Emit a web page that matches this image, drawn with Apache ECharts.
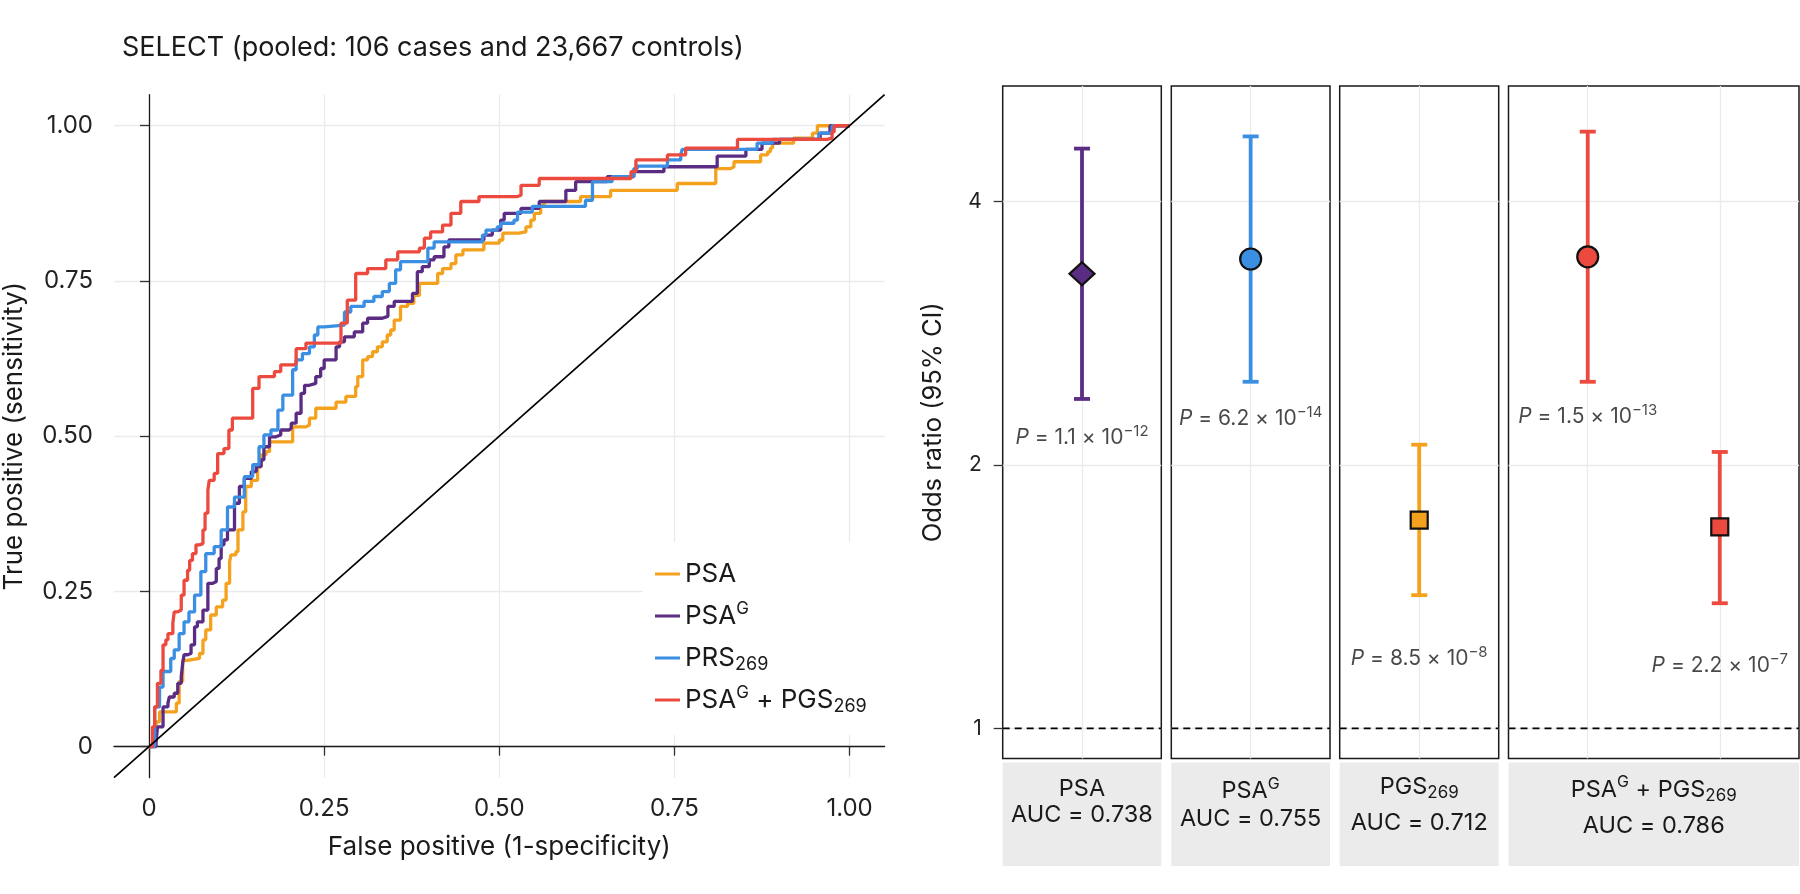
<!DOCTYPE html>
<html>
<head>
<meta charset="utf-8">
<title>SELECT ROC and odds ratios</title>
<script src="https://cdn.jsdelivr.net/npm/echarts@6/dist/echarts.min.js"></script>
<style>
  html, body { margin: 0; padding: 0; background: #fff; }
  #chart { width: 1800px; height: 894px; }
</style>
</head>
<body>
<div id="chart"></div>
<script>
'use strict';

// ROC curves, [false positive, true positive] at each step
const rocPSA = [[0,0],[0.005,0.016],[0.010,0.040],[0.015,0.056],[0.039,0.070],[0.043,0.105],[0.048,0.139],[0.055,0.142],[0.072,0.150],[0.077,0.172],[0.081,0.188],[0.088,0.212],[0.096,0.225],[0.105,0.236],[0.110,0.263],[0.115,0.298],[0.117,0.309],[0.124,0.314],[0.127,0.349],[0.134,0.378],[0.138,0.419],[0.146,0.429],[0.155,0.451],[0.160,0.470],[0.167,0.475],[0.172,0.491],[0.205,0.515],[0.224,0.518],[0.229,0.529],[0.238,0.545],[0.267,0.555],[0.281,0.564],[0.295,0.580],[0.298,0.596],[0.305,0.623],[0.312,0.628],[0.319,0.636],[0.326,0.644],[0.333,0.652],[0.340,0.663],[0.345,0.671],[0.350,0.687],[0.359,0.709],[0.369,0.714],[0.378,0.727],[0.386,0.746],[0.412,0.762],[0.419,0.770],[0.431,0.778],[0.438,0.792],[0.448,0.800],[0.478,0.811],[0.500,0.816],[0.505,0.827],[0.528,0.829],[0.538,0.837],[0.545,0.848],[0.550,0.859],[0.559,0.872],[0.564,0.878],[0.616,0.886],[0.659,0.896],[0.754,0.907],[0.809,0.931],[0.830,0.934],[0.835,0.942],[0.873,0.953],[0.883,0.958],[0.887,0.964],[0.890,0.972],[0.920,0.980],[0.947,0.988],[0.954,1.0],[1,1]];
const rocPSAG = [[0,0],[0.010,0.005],[0.012,0.032],[0.020,0.064],[0.027,0.070],[0.029,0.080],[0.036,0.086],[0.041,0.102],[0.046,0.113],[0.048,0.134],[0.050,0.148],[0.055,0.150],[0.060,0.164],[0.065,0.193],[0.069,0.201],[0.077,0.220],[0.084,0.263],[0.091,0.266],[0.096,0.287],[0.100,0.303],[0.103,0.325],[0.107,0.333],[0.112,0.349],[0.122,0.392],[0.129,0.419],[0.136,0.432],[0.146,0.443],[0.153,0.451],[0.160,0.462],[0.164,0.483],[0.172,0.499],[0.181,0.502],[0.188,0.510],[0.200,0.513],[0.203,0.521],[0.210,0.537],[0.217,0.569],[0.222,0.582],[0.229,0.585],[0.238,0.596],[0.245,0.609],[0.250,0.623],[0.267,0.644],[0.272,0.652],[0.279,0.660],[0.293,0.668],[0.305,0.682],[0.312,0.690],[0.333,0.693],[0.341,0.709],[0.350,0.717],[0.376,0.730],[0.383,0.765],[0.390,0.773],[0.400,0.784],[0.407,0.789],[0.421,0.805],[0.428,0.816],[0.478,0.824],[0.490,0.832],[0.502,0.848],[0.507,0.859],[0.531,0.867],[0.557,0.878],[0.595,0.896],[0.609,0.910],[0.654,0.918],[0.692,0.926],[0.735,0.934],[0.811,0.951],[0.852,0.962],[0.875,0.972],[0.900,0.978],[0.958,0.988],[0.972,1.0],[1,1]];
const rocPRS = [[0,0],[0.008,0.064],[0.015,0.096],[0.020,0.121],[0.031,0.142],[0.036,0.156],[0.043,0.182],[0.050,0.201],[0.057,0.217],[0.065,0.244],[0.074,0.282],[0.081,0.311],[0.093,0.322],[0.103,0.349],[0.112,0.386],[0.122,0.402],[0.136,0.435],[0.148,0.454],[0.157,0.483],[0.164,0.502],[0.174,0.510],[0.184,0.542],[0.191,0.566],[0.205,0.607],[0.210,0.623],[0.219,0.633],[0.229,0.644],[0.236,0.663],[0.241,0.676],[0.250,0.679],[0.279,0.700],[0.288,0.709],[0.307,0.717],[0.321,0.725],[0.333,0.733],[0.343,0.746],[0.352,0.768],[0.359,0.781],[0.398,0.803],[0.407,0.813],[0.476,0.824],[0.481,0.832],[0.497,0.837],[0.502,0.843],[0.521,0.848],[0.526,0.861],[0.547,0.870],[0.623,0.880],[0.633,0.910],[0.661,0.918],[0.692,0.931],[0.697,0.935],[0.740,0.945],[0.759,0.953],[0.761,0.962],[0.868,0.972],[0.890,0.978],[0.956,0.988],[0.975,1.0],[1,1]];
const rocCombined = [[0,0],[0.005,0.032],[0.008,0.064],[0.012,0.102],[0.017,0.123],[0.020,0.164],[0.024,0.172],[0.027,0.182],[0.034,0.199],[0.036,0.217],[0.041,0.220],[0.046,0.244],[0.050,0.268],[0.055,0.284],[0.058,0.300],[0.062,0.311],[0.067,0.325],[0.072,0.327],[0.077,0.349],[0.080,0.376],[0.084,0.413],[0.086,0.429],[0.093,0.440],[0.098,0.472],[0.107,0.480],[0.114,0.510],[0.119,0.529],[0.148,0.577],[0.157,0.596],[0.179,0.604],[0.188,0.615],[0.207,0.617],[0.210,0.641],[0.224,0.650],[0.274,0.682],[0.283,0.719],[0.295,0.762],[0.312,0.770],[0.338,0.784],[0.355,0.797],[0.386,0.803],[0.393,0.819],[0.402,0.829],[0.419,0.840],[0.431,0.859],[0.445,0.878],[0.471,0.886],[0.526,0.888],[0.531,0.904],[0.557,0.915],[0.688,0.926],[0.695,0.945],[0.740,0.953],[0.766,0.964],[0.840,0.978],[0.968,0.980],[0.975,0.990],[0.978,1.0],[1,1]];
const rocNames = ['PSA', 'PSAG', 'PRS269', 'PSAG+PGS269'];
const rocTicks = [0, 0.25, 0.5, 0.75, 1];
const chanceLine = [[-0.05, -0.05], [1.05, 1.05]];

// odds ratios, one entry per estimate
const orPanels = ['PSA', 'PSAG', 'PGS269', 'PSAG+PGS269'];
const orAuc = ['0.738', '0.755', '0.712', '0.786'];
const orPanelOf = [0, 1, 2, 3, 3];
const orSlot = [1, 1, 1, 1, 2];
const orEstimate = [3.31, 3.44, 1.73, 3.46, 1.70];
const orLower = [2.38, 2.49, 1.42, 2.49, 1.39];
const orUpper = [4.60, 4.75, 2.11, 4.81, 2.07];
const pMantissa = ['1.1', '6.2', '8.5', '1.5', '2.2'];
const pExponent = ['\u221212', '\u221214', '\u22128', '\u221213', '\u22127'];
const pLabelAt = [2.15, 2.26, 1.20, 2.27, 1.18];
const orTicks = [1, 2, 4];

const FONT = 'Inter, "Noto Sans", sans-serif';
const INK = '#1a1a1a';
const GRID = '#ebebeb';
const rocColors = ['#f4a11d', '#5b2c83', '#3b8fe2', '#ec4a3e'];
const orColors = ['#5b2c83', '#3b8fe2', '#f4a11d', '#ec4a3e', '#ec4a3e'];
const orSymbols = ['diamond', 'circle', 'rect', 'circle', 'rect'];
const orSymbolSize = [[25, 23], 21, 17, 21, 17];

const richParts = {
    sup: { fontSize: 16, verticalAlign: 'top', lineHeight: 12, fontFamily: FONT, color: INK },
    sub: { fontSize: 17, verticalAlign: 'bottom', lineHeight: 12, fontFamily: FONT, color: INK },
    it: { fontStyle: 'italic', fontFamily: FONT, color: INK, fontSize: 21 }
};
const pretty = {
    'PSA': 'PSA',
    'PSAG': 'PSA{sup|G}',
    'PRS269': 'PRS{sub|269}',
    'PGS269': 'PGS{sub|269}',
    'PSAG+PGS269': 'PSA{sup|G} + PGS{sub|269}'
};

// panel boxes on the right [left, width]
const panelBox = [[1002.7, 158.6], [1171.3, 158.7], [1339.7, 159], [1508.5, 290.5]];
const panelTop = 86, panelHeight = 672.4;
const slotsPerPanel = [1, 1, 1, 2];

function init() {
    const chart = echarts.init(document.getElementById('chart'));

    const grids = [{ left: 112.4, top: 94.7, width: 772.2, height: 683 }];
    const xAxes = [{
        type: 'value', gridIndex: 0, min: -0.05, max: 1.05,
        name: 'False positive (1-specificity)', nameLocation: 'middle', nameGap: 56,
        nameTextStyle: { fontSize: 26, color: INK, fontFamily: FONT },
        axisLine: { lineStyle: { color: INK, width: 1.3 } },
        axisTick: { length: 9, customValues: rocTicks, lineStyle: { color: '#333', width: 1.3 } },
        axisLabel: { customValues: rocTicks, margin: 19, fontSize: 24, color: '#222', fontFamily: FONT,
            formatter: v => (v === 0 ? '0' : v.toFixed(2)) },
        splitLine: { show: true, lineStyle: { color: GRID, width: 1.3 } }
    }];
    const yAxes = [{
        type: 'value', gridIndex: 0, min: -0.05, max: 1.05,
        name: 'True positive (sensitivity)', nameLocation: 'middle', nameGap: 87,
        nameTextStyle: { fontSize: 26, color: INK, fontFamily: FONT },
        axisLine: { show: true, lineStyle: { color: INK, width: 1.3 } },
        axisTick: { show: true, length: 9, customValues: rocTicks, lineStyle: { color: '#333', width: 1.3 } },
        axisLabel: { customValues: rocTicks, margin: 21, fontSize: 24, color: '#222', fontFamily: FONT,
            formatter: v => (v === 0 ? '0' : v.toFixed(2)) },
        splitLine: { show: true, lineStyle: { color: GRID, width: 1.3 } }
    }];

    panelBox.forEach((b, p) => {
        const slots = [];
        for (let s = 1; s <= slotsPerPanel[p]; s++) slots.push(s);
        grids.push({
            left: b[0], top: panelTop, width: b[1], height: panelHeight,
            show: true, borderColor: INK, borderWidth: 1.5, backgroundColor: 'transparent'
        });
        xAxes.push({
            type: 'value', gridIndex: p + 1, min: 0.4, max: slotsPerPanel[p] + 0.6,
            axisLine: { show: false }, axisLabel: { show: false },
            axisTick: { show: false, customValues: slots },
            splitLine: { show: true, lineStyle: { color: GRID, width: 1.3 } }
        });
        yAxes.push({
            type: 'log', logBase: 2, gridIndex: p + 1, min: 0.924, max: 5.424,
            name: p === 0 ? 'Odds ratio (95% CI)' : '', nameLocation: 'middle', nameGap: 56,
            nameTextStyle: { fontSize: 25.5, color: INK, fontFamily: FONT },
            axisLine: { show: false },
            axisTick: { show: p === 0, length: 9, customValues: orTicks, lineStyle: { color: '#333', width: 1.3 } },
            axisLabel: { show: p === 0, customValues: orTicks, margin: 21, fontSize: 21, color: '#222', fontFamily: FONT },
            splitLine: { show: true, lineStyle: { color: GRID, width: 1.3 } }
        });
    });

    const series = [];
    [rocPSA, rocPSAG, rocPRS, rocCombined].forEach((d, k) => {
        series.push({
            name: rocNames[k], type: 'line', step: 'end', data: d,
            xAxisIndex: 0, yAxisIndex: 0, symbol: 'none',
            lineStyle: { width: 3.3, color: rocColors[k] }, itemStyle: { color: rocColors[k] },
            z: 3 + k
        });
    });
    series.push({
        type: 'line', data: chanceLine, xAxisIndex: 0, yAxisIndex: 0, symbol: 'none',
        lineStyle: { width: 1.7, color: '#000' }, z: 8, silent: true
    });

    // reference line at OR = 1 in each panel
    slotsPerPanel.forEach((n, p) => {
        series.push({
            type: 'line', xAxisIndex: p + 1, yAxisIndex: p + 1, symbol: 'none',
            data: [[0.4, 1], [n + 0.6, 1]],
            lineStyle: { color: '#000', width: 1.6, type: [7, 5] }, z: 2, silent: true
        });
    });

    orEstimate.forEach((est, i) => {
        const ax = orPanelOf[i] + 1;
        const col = orColors[i];
        series.push({
            type: 'custom', xAxisIndex: ax, yAxisIndex: ax,
            data: [[orSlot[i], orLower[i], orUpper[i]]],
            encode: { x: 0, y: [1, 2] },
            z: 3,
            renderItem: (params, api) => {
                const hi = api.coord([api.value(0), api.value(2)]);
                const lo = api.coord([api.value(0), api.value(1)]);
                const st = { stroke: col, lineWidth: 3.8 };
                return {
                    type: 'group', children: [
                        { type: 'line', shape: { x1: hi[0], y1: hi[1], x2: lo[0], y2: lo[1] }, style: st },
                        { type: 'line', shape: { x1: hi[0] - 8, y1: hi[1], x2: hi[0] + 8, y2: hi[1] }, style: st },
                        { type: 'line', shape: { x1: lo[0] - 8, y1: lo[1], x2: lo[0] + 8, y2: lo[1] }, style: st }
                    ]
                };
            }
        });
        series.push({
            type: 'scatter', xAxisIndex: ax, yAxisIndex: ax,
            data: [[orSlot[i], est]],
            symbol: orSymbols[i], symbolSize: orSymbolSize[i],
            itemStyle: { color: col, borderColor: '#111', borderWidth: 2.2, opacity: 1 },
            z: 5
        });
        series.push({
            type: 'scatter', xAxisIndex: ax, yAxisIndex: ax,
            data: [[orSlot[i], pLabelAt[i]]],
            symbolSize: 1, itemStyle: { color: 'transparent' }, z: 6,
            label: {
                show: true, position: 'inside',
                formatter: '{it|P} = ' + pMantissa[i] + ' \u00d7 10{sup|' + pExponent[i] + '}',
                fontSize: 21, color: INK, fontFamily: FONT, lineHeight: 28,
                rich: {
                    it: richParts.it,
                    sup: { fontSize: 15, verticalAlign: 'top', lineHeight: 10, fontFamily: FONT, color: INK }
                }
            }
        });
    });

    // strips under the panels
    const stripTop = 762.4, stripHeight = 103.6;
    const line1Y = [788.5, 791, 786.8, 789.6];
    const line2Y = [815.3, 819, 822.7, 825.5];
    const graphics = [];
    panelBox.forEach((b, p) => {
        const cx = b[0] + b[1] / 2;
        graphics.push({
            type: 'rect', shape: { x: b[0], y: stripTop, width: b[1], height: stripHeight },
            style: { fill: '#ebebeb' }, silent: true
        });
        graphics.push({
            type: 'text', x: cx, y: line1Y[p], silent: true,
            style: {
                text: pretty[orPanels[p]], align: 'center', verticalAlign: 'middle',
                fontSize: 23.5, fontFamily: FONT, fill: INK, lineHeight: 30,
                rich: { sup: richParts.sup, sub: richParts.sub }
            }
        });
        graphics.push({
            type: 'text', x: cx, y: line2Y[p], silent: true,
            style: {
                text: 'AUC = ' + orAuc[p], align: 'center', verticalAlign: 'middle',
                fontSize: 23.5, fontFamily: FONT, fill: INK
            }
        });
    });

    const option = {
        backgroundColor: '#fff',
        animation: false,
        title: {
            text: 'SELECT (pooled: 106 cases and 23,667 controls)',
            left: 117, top: 29,
            textStyle: { fontSize: 27, fontWeight: 'normal', color: INK, fontFamily: FONT }
        },
        legend: {
            data: rocNames, selectedMode: false,
            left: 643, top: 542, orient: 'vertical',
            backgroundColor: '#fff', padding: [16, 20, 19, 12],
            icon: 'rect', itemWidth: 25, itemHeight: 3, itemGap: 10,
            formatter: name => pretty[name],
            textStyle: {
                fontSize: 26, color: INK, fontFamily: FONT, lineHeight: 32,
                rich: {
                    sup: { fontSize: 17, verticalAlign: 'top', lineHeight: 12, fontFamily: FONT, color: INK },
                    sub: { fontSize: 18, verticalAlign: 'bottom', lineHeight: 12, fontFamily: FONT, color: INK }
                }
            }
        },
        grid: grids,
        xAxis: xAxes,
        yAxis: yAxes,
        series: series,
        graphic: graphics
    };
    chart.setOption(option);
}

(function () {
    init();
})();
</script>
</body>
</html>
